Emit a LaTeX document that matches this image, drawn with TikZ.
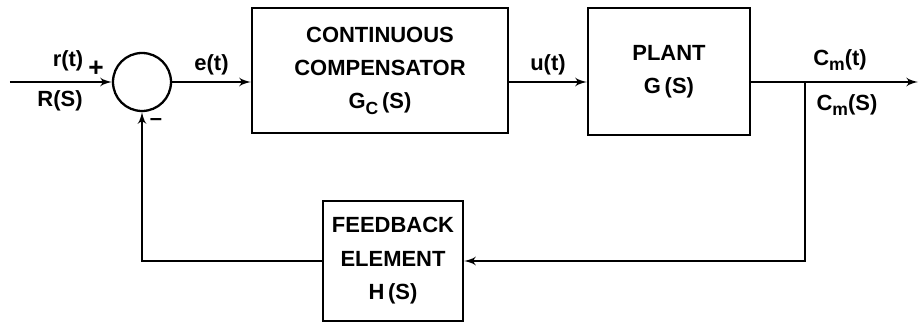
\documentclass[tikz,border=0pt]{standalone}
\usepackage{fontspec}
\setmainfont{Liberation Sans}
\usetikzlibrary{arrows}
\newcommand{\lowidx}[1]{\raisebox{-0.45ex}{\fontsize{10}{10}\selectfont #1}}

\begin{document}
\begin{tikzpicture}[>=latex', line width=1.3pt,
		blk/.style={draw, align=center, font=\fontsize{12.5}{19}\selectfont\bfseries},
		lbl/.style={font=\fontsize{12.5}{15}\selectfont\bfseries}]
		\useasboundingbox (0,0) rectangle (18.38,6.44);
		\node[draw, circle, minimum size=1.16cm, inner sep=0pt] (sum) at (2.84,4.8) {};
		\node[blk, minimum width=5.12cm, minimum height=2.5cm] (comp) at (7.6,5.03) {CONTINUOUS\\COMPENSATOR\\G\lowidx{C}\,(S)};
		\node[blk, minimum width=3.24cm, minimum height=2.54cm] (plant) at (13.38,5.01) {PLANT\\G\,(S)};
		\node[blk, minimum width=2.8cm, minimum height=2.4cm] (fb) at (7.86,1.22) {FEEDBACK\\ELEMENT\\H\,(S)};
		\coordinate (in) at (0.2,4.8);
		\coordinate (out) at (18.36,4.8);
		\coordinate (branch) at (16.1,4.8);
		%
		\node[lbl] (rt) at (1.36,5.22) {r(t)};
		\node[lbl, font=\fontsize{15}{15}\selectfont\bfseries] (plus) at (1.92,5.06) {+};
		\node[lbl] (rs) at (1.2,4.42) {R(S)};
		\node[lbl] (minus) at (3.12,4.0) {–};
		\node[lbl] (cmt) at (16.8,5.24) {C\lowidx{m}(t)};
		\node[lbl] (cms) at (16.94,4.34) {C\lowidx{m}(S)};
		%
		\draw[->] (in) -- (sum.west);
		\draw[->] (sum.east) -- (sum.east -| comp.west) node[midway, above, lbl]{e(t)};
		\draw[->] (comp.east |- sum) -- (plant.west |- sum) node[midway, above, lbl]{u(t)};
		\draw[->] (plant.east |- sum) -- (out);
		\draw[->] (branch) |- (fb.east);
		\draw[->] (fb.west) -| (sum.south);
		\end{tikzpicture}
\end{document}
